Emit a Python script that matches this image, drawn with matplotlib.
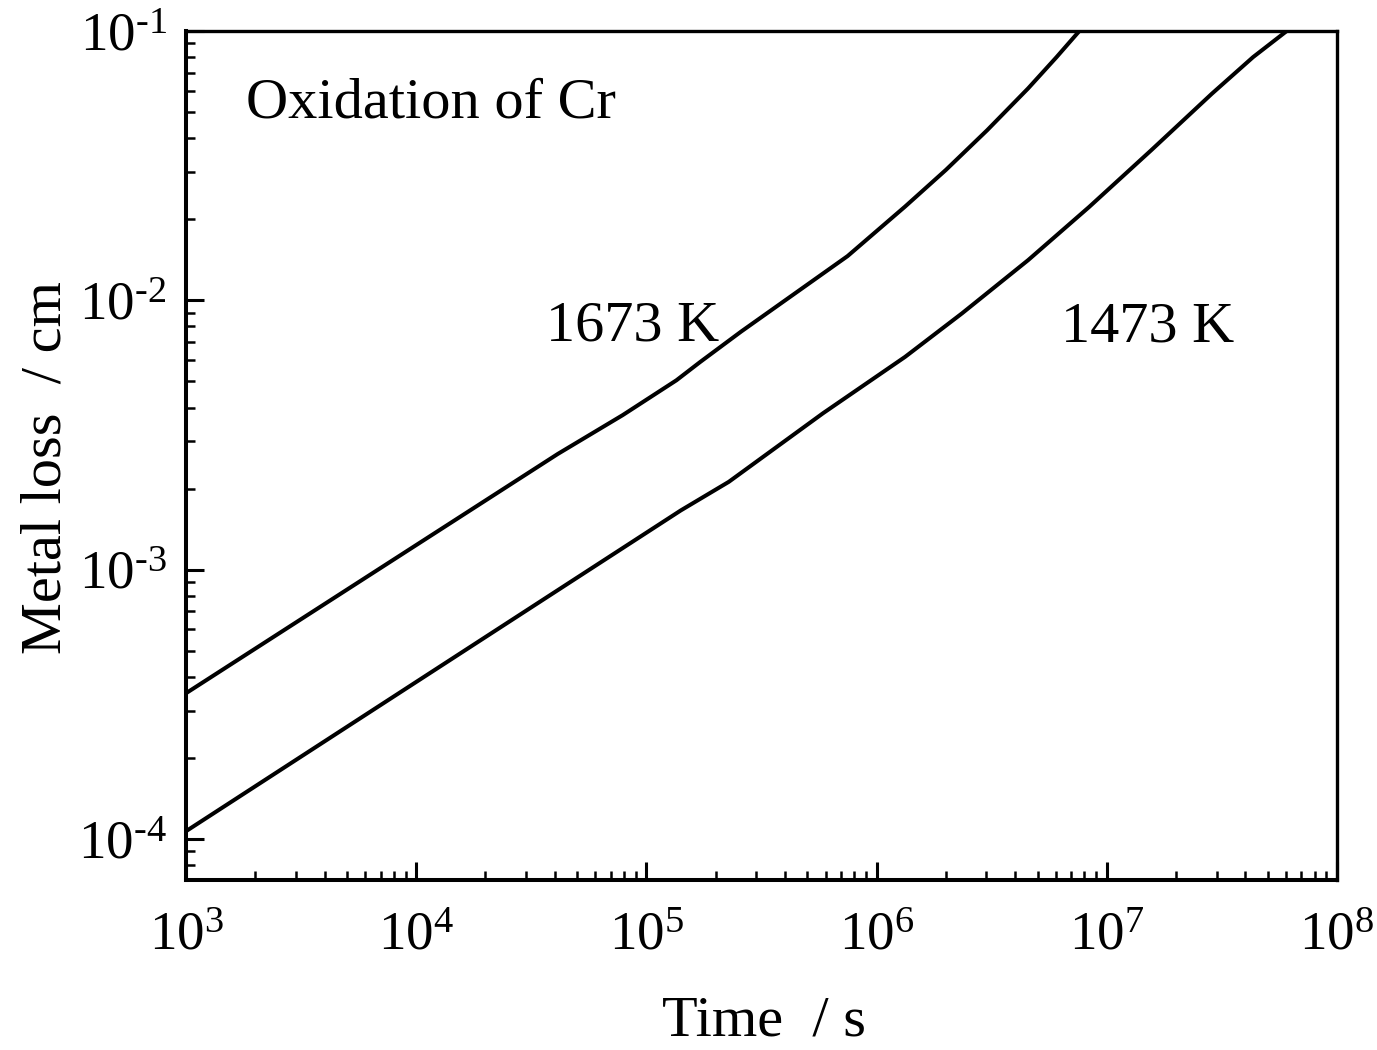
import matplotlib
matplotlib.use("Agg")
import matplotlib.pyplot as plt
from matplotlib.ticker import LogLocator, FixedLocator, FixedFormatter, NullFormatter

plt.rcParams['font.family'] = ['Liberation Serif', 'DejaVu Serif']
plt.rcParams['mathtext.fontset'] = 'custom'
plt.rcParams['mathtext.rm'] = 'Liberation Serif'
plt.rcParams['mathtext.it'] = 'Liberation Serif:italic'
plt.rcParams['mathtext.bf'] = 'Liberation Serif:bold'

# 1673 K curve
t_1673 = [1.0e3, 4.12e4, 7.89e4, 1.35e5, 1.71e5, 2.58e5, 7.48e5, 1.33e6,
          2.00e6, 3.02e6, 4.55e6, 6.05e6, 7.6e6]
loss_1673 = [3.48e-4, 2.69e-3, 3.75e-3, 5.05e-3, 5.90e-3, 7.66e-3, 1.46e-2,
             2.23e-2, 3.05e-2, 4.28e-2, 6.12e-2, 8.0e-2, 1.0e-1]

# 1473 K curve
t_1473 = [1.0e3, 1.41e5, 2.28e5, 5.85e5, 1.33e6, 2.35e6, 4.55e6, 8.37e6,
          1.56e7, 2.86e7, 4.32e7, 6.05e7]
loss_1473 = [1.07e-4, 1.66e-3, 2.12e-3, 3.81e-3, 6.17e-3, 8.95e-3, 1.41e-2,
             2.22e-2, 3.61e-2, 5.85e-2, 8.0e-2, 1.0e-1]

x_ticks = [1e3, 1e4, 1e5, 1e6, 1e7, 1e8]
x_ticklabels = ['$10^{3}$', '$10^{4}$', '$10^{5}$', '$10^{6}$', '$10^{7}$', '$10^{8}$']
y_ticks = [1e-4, 1e-3, 1e-2, 1e-1]
y_ticklabels = ['$10^{\u20104}$', '$10^{\u20103}$', '$10^{\u20102}$', '$10^{\u20101}$']

fig = plt.figure(figsize=(13.77, 10.5), dpi=100)
ax = fig.add_axes([186/1377, 1 - 880/1050, (1337-186)/1377, (880-31)/1050])

ax.plot(t_1673, loss_1673, color='black', lw=2.9, solid_joinstyle='round')
ax.plot(t_1473, loss_1473, color='black', lw=2.9, solid_joinstyle='round')

ax.set_xscale('log')
ax.set_yscale('log')
ax.set_xlim(1e3, 1e8)
ax.set_ylim(7.05e-5, 1e-1)

ax.xaxis.set_major_locator(FixedLocator(x_ticks))
ax.xaxis.set_major_formatter(FixedFormatter(x_ticklabels))
ax.yaxis.set_major_locator(FixedLocator(y_ticks))
ax.yaxis.set_major_formatter(FixedFormatter(y_ticklabels))
ax.xaxis.set_minor_locator(LogLocator(base=10, subs=range(2, 10), numticks=20))
ax.yaxis.set_minor_locator(LogLocator(base=10, subs=range(2, 10), numticks=20))
ax.xaxis.set_minor_formatter(NullFormatter())
ax.yaxis.set_minor_formatter(NullFormatter())

ax.tick_params(which='both', direction='in', top=False, right=False, colors='black')
ax.tick_params(which='major', length=13, width=2.2, labelsize=39.5)
ax.tick_params(which='minor', length=6.5, width=1.8)
ax.tick_params(axis='x', which='major', pad=22)
ax.tick_params(axis='y', which='major', pad=14)

for side in ['left', 'bottom']:
    ax.spines[side].set_linewidth(2.9)
for side in ['top', 'right']:
    ax.spines[side].set_linewidth(2.4)

ax.set_xlabel('Time  / s', fontsize=42)
ax.xaxis.label.set_va('baseline')
ax.xaxis.set_label_coords((764 - 186) / 1151, (880 - 1035) / 849)
ax.set_ylabel('Metal loss  / cm', fontsize=42)
ax.yaxis.label.set_va('baseline')
ax.yaxis.set_label_coords((60 - 186) / 1151, (880 - 468) / 849)

ax.text(1.83e3, 4.78e-2, 'Oxidation of Cr', fontsize=42, ha='left', va='baseline')
ax.text(3.66e4, 7.11e-3, '1673 K', fontsize=42, ha='left', va='baseline')
ax.text(6.3e6, 7.05e-3, '1473 K', fontsize=42, ha='left', va='baseline')

fig.savefig('out.png', dpi=100)
